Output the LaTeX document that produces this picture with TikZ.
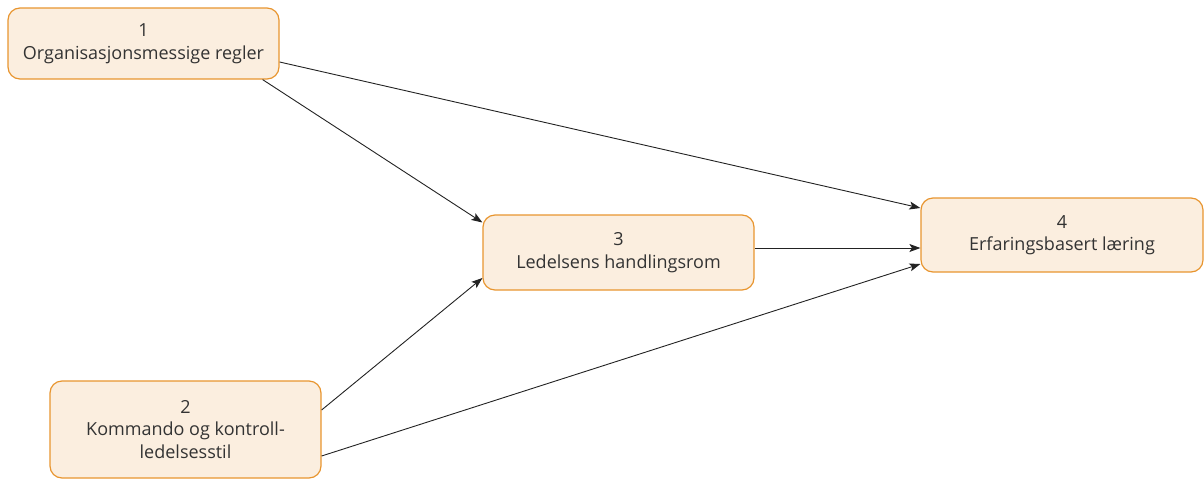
\documentclass[tikz,border=0pt]{standalone}
\usepackage{fontspec}
\setmainfont{Open Sans}
\usetikzlibrary{arrows.meta,calc}
\definecolor{boxfill}{HTML}{FBEEDF}
\definecolor{boxline}{HTML}{E8952F}
\definecolor{txt}{HTML}{333333}
\definecolor{arr}{HTML}{222222}
\tikzset{
  box/.style={draw=boxline, fill=boxfill, line width=1.2pt, rounded corners=12pt,
    align=center, text=txt, font=\fontsize{18}{22.5}\selectfont, inner sep=0pt},
  conn/.style={draw=arr, line width=0.9pt, -{Stealth[length=11pt,width=8pt,inset=2.5pt]}}
}
\begin{document}
\begin{tikzpicture}[x=1pt,y=-1pt]
\useasboundingbox (0,0) rectangle (1204,479);
\node[box, minimum width=271pt, minimum height=71pt] (b1) at (143.5,43.5) {1\\Organisasjonsmessige regler};
\node[box, minimum width=271pt, minimum height=97pt] (b2) at (185.5,429.5) {2\\Kommando og kontroll-\\ledelsesstil};
\node[box, minimum width=271pt, minimum height=75pt] (b3) at (618.5,252.5) {3\\Ledelsens handlingsrom};
\node[box, minimum width=282pt, minimum height=74pt] (b4) at (1062,235) {4\\Erfaringsbasert læring};
\draw[conn] ([yshift=-18.5pt]b1.east) -- ([yshift=27pt]b4.west);
\draw[conn] ([xshift=-17pt]b1.south east) -- ([yshift=30pt]b3.west);
\draw[conn] ([yshift=4.5pt]b3.east) -- ([yshift=-13pt]b4.west);
\draw[conn] ([yshift=19.5pt]b2.east) -- ([yshift=-25.5pt]b3.west);
\draw[conn] ([yshift=-26.5pt]b2.east) -- ([yshift=-29pt]b4.west);
\end{tikzpicture}
\end{document}
